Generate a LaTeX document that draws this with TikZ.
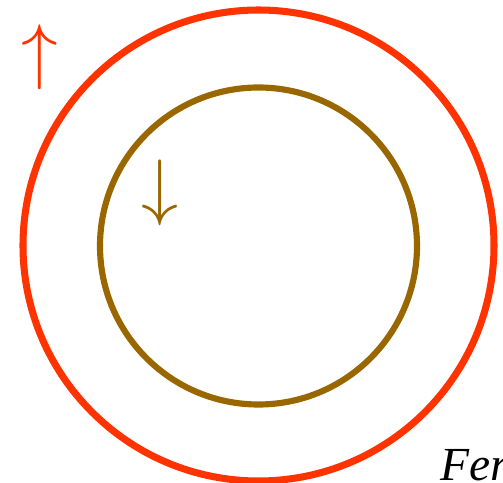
\documentclass[tikz,border=0pt]{standalone}
\usepackage{fontspec}
\setmainfont{Liberation Serif}
\usetikzlibrary{positioning}
\definecolor{spinup}{HTML}{FF3300}
\definecolor{spindown}{HTML}{996600}

\begin{document}
\begin{tikzpicture}[
    ring/.style={draw=#1, circle, line width=4pt, inner sep=0pt},
    spinarrow/.style={text=#1, inner sep=0pt}
]
\useasboundingbox (0,0) rectangle (10.06,9.66);

%% --- Fermi spheres ---
\node[ring=spinup, minimum size=9.42cm] (outer) at (5.17,4.75) {};
\node[ring=spindown, line width=3.5pt, minimum size=6.34cm] (inner) at (5.17,4.74) {};

%% --- spin labels ---
\node[spinarrow=spinup] (up) at (0.80,8.52) {\resizebox*{!}{1.30cm}{$\uparrow$}};
\node[spinarrow=spindown] (down) at (3.20,5.81) {\resizebox*{!}{1.32cm}{$\downarrow$}};

\node[anchor=base west, inner sep=0pt, font=\fontsize{27}{27}\selectfont\itshape] (fer) at (8.80,0.04) {Fer};

\end{tikzpicture}
\end{document}
